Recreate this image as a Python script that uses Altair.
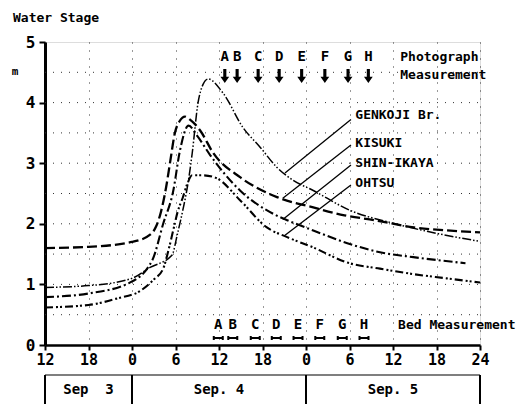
import altair as alt
import pandas as pd

# ---------------- data (hours counted from Sep 3, 00:00) ----------------
GENKOJI_H = [12, 18, 24, 26.5, 29.5, 30.3, 31.0, 31.7, 32.3, 33.1, 33.8, 34.5, 36.6, 39.3, 41.7, 44.0, 46.2, 49.0, 54.1, 60.0, 66.1, 72]
GENKOJI_V = [0.95, 0.98, 1.10, 1.28, 1.48, 1.85, 2.22, 2.65, 3.16, 3.99, 4.30, 4.39, 4.15, 3.59, 3.26, 2.93, 2.72, 2.55, 2.22, 2.01, 1.84, 1.71]

KISUKI_H = [12, 18, 24, 26.5, 27.3, 28.0, 28.7, 29.3, 29.9, 30.6, 31.3, 32.0, 33.4, 35.2, 38.9, 44.0, 49.0, 53.3, 57.4, 62.9, 67.5, 72]
KISUKI_V = [1.60, 1.62, 1.70, 1.82, 1.95, 2.20, 2.60, 3.05, 3.49, 3.70, 3.77, 3.72, 3.54, 3.17, 2.77, 2.44, 2.27, 2.14, 2.06, 1.94, 1.89, 1.86]

SHIN_H = [12, 18, 23.7, 26.8, 28.3, 29.7, 30.6, 31.8, 33.0, 34.8, 38.9, 43.4, 45.4, 49.0, 53.7, 58.2, 62.8, 70.0]
SHIN_V = [0.79, 0.85, 1.03, 1.40, 2.00, 2.55, 3.20, 3.62, 3.45, 3.13, 2.55, 2.17, 2.06, 1.89, 1.68, 1.53, 1.45, 1.35]

OHTSU_H = [12, 18, 22, 25.1, 27.0, 28.3, 29.0, 29.7, 30.3, 31.0, 31.6, 32.3, 33.8, 35.7, 38.9, 42.6, 45.4, 49.0, 53.7, 58.2, 62.8, 67.4, 72]
OHTSU_V = [0.62, 0.66, 0.77, 0.89, 1.08, 1.26, 1.55, 1.90, 2.20, 2.43, 2.65, 2.80, 2.80, 2.75, 2.39, 1.94, 1.78, 1.61, 1.36, 1.26, 1.17, 1.10, 1.03]

STATIONS = ["GENKOJI Br.", "KISUKI", "SHIN-IKAYA", "OHTSU"]
# leader lines: curve end (hour, stage) -> label end (hour, stage)
LEADER_H1 = [45.1, 44.8, 44.8, 45.1]
LEADER_V1 = [2.84, 2.42, 2.07, 1.81]
LEADER_H2 = [54.2, 54.2, 54.2, 54.2]
LEADER_V2 = [3.72, 3.30, 2.97, 2.64]
LABEL_H = [54.8, 54.8, 54.8, 54.8]
LABEL_V = [3.79, 3.34, 3.01, 2.68]

MEAS = ["A", "B", "C", "D", "E", "F", "G", "H"]
PHOTO_H = [36.8, 38.5, 41.4, 44.3, 47.4, 50.6, 53.8, 56.6]
BED_H = [35.9, 37.9, 41.0, 43.9, 46.9, 49.9, 53.0, 56.0]

X_TICKS = [12, 18, 24, 30, 36, 42, 48, 54, 60, 66, 72]
Y_TICKS = [0, 1, 2, 3, 4, 5]
GRID_Y = [0.5, 1, 1.5, 2, 2.5, 3, 3.5, 4, 4.5]

DAY_EDGES = [12, 24, 48, 72]
DAY_MID = [18, 36, 60]
DAY_NAMES = ["Sep\u00a0\u00a03", "Sep.\u00a04", "Sep.\u00a05"]

# ---------------- tables ----------------
def series(name, hs, vs):
    return pd.DataFrame({"station": name, "hour": hs, "stage": vs})

lines = {
    "GENKOJI Br.": series("GENKOJI Br.", GENKOJI_H, GENKOJI_V),
    "KISUKI": series("KISUKI", KISUKI_H, KISUKI_V),
    "SHIN-IKAYA": series("SHIN-IKAYA", SHIN_H, SHIN_V),
    "OHTSU": series("OHTSU", OHTSU_H, OHTSU_V),
}
styles = {
    "GENKOJI Br.": dict(strokeDash=[9, 2, 1.5, 2, 1.5, 2], strokeWidth=1.5),
    "KISUKI": dict(strokeDash=[10, 4], strokeWidth=2.3),
    "SHIN-IKAYA": dict(strokeDash=[9, 3, 2, 3], strokeWidth=2.1),
    "OHTSU": dict(strokeDash=[8, 3, 2, 2, 2, 3], strokeWidth=2.1),
}

leaders = pd.DataFrame({"h1": LEADER_H1, "v1": LEADER_V1, "h2": LEADER_H2, "v2": LEADER_V2})
labels = pd.DataFrame({"station": STATIONS, "hour": LABEL_H, "stage": LABEL_V})
photo = pd.DataFrame({"m": MEAS, "hour": PHOTO_H})
bed = pd.DataFrame({"m": MEAS, "hour": BED_H})
grid_y = pd.DataFrame({"stage": GRID_Y, "hour": [12] * len(GRID_Y)})
days_e = pd.DataFrame({"hour": DAY_EDGES})
days_m = pd.DataFrame({"hour": DAY_MID, "name": DAY_NAMES})
span = pd.DataFrame({"h1": [DAY_EDGES[0]], "h2": [DAY_EDGES[-1]]})

FONT = "DejaVu Sans Mono"
xs = alt.Scale(domain=[12, 72], nice=False, zero=False)
ys = alt.Scale(domain=[0, 5], nice=False, zero=False)

x_axis = alt.Axis(values=X_TICKS, labelExpr="datum.value == 72 ? '24' : '' + (datum.value % 24)",
                  title=None, grid=True, gridDash=[1, 7], gridColor="#333", gridWidth=1,
                  domain=True, domainWidth=2.5, domainColor="black", tickColor="black", tickWidth=2,
                  tickSize=5, labelFont=FONT, labelFontSize=15, labelFontWeight="bold",
                  labelColor="black", labelPadding=2, labelFlush=False, labelOverlap=False)
y_axis = alt.Axis(values=Y_TICKS, format="d", title=None, grid=False,
                  domain=True, domainWidth=3, domainColor="black", tickColor="black", tickWidth=2,
                  tickSize=6, labelFont=FONT, labelFontSize=16, labelFontWeight="bold",
                  labelColor="black", labelPadding=4, labelFlush=False, labelOverlap=False)


def X(field):
    return alt.X(field, type="quantitative", scale=xs, axis=x_axis)


def Y(field):
    return alt.Y(field, type="quantitative", scale=ys, axis=y_axis)


TXT = dict(font=FONT, fontSize=13, fontWeight="bold", color="black")
BIG = dict(font=FONT, fontSize=14, fontWeight="bold", color="black")

layers = []
# horizontal dotted grid
layers.append(alt.Chart(grid_y).mark_rule(strokeDash=[1, 7], color="#333", strokeWidth=1).encode(
    y=Y("stage"), x=X("hour"), x2=alt.value(435)))

for name in STATIONS:
    st = styles[name]
    layers.append(alt.Chart(lines[name]).mark_line(color="black", interpolate="monotone", **st).encode(
        x=X("hour"), y=Y("stage")))

layers.append(alt.Chart(leaders).mark_rule(color="black", strokeWidth=1.3).encode(
    x=X("h1"), x2="h2", y=Y("v1"), y2="v2"))
layers.append(alt.Chart(labels).mark_text(align="left", baseline="middle", **TXT).encode(
    x=X("hour"), y=Y("stage"), text="station:N"))

# photograph measurement letters and arrows
layers.append(alt.Chart(photo).mark_text(baseline="middle", **BIG).encode(
    x=X("hour"), y=alt.value(15), text="m:N"))
ARROW = "M-0.22,-1L0.22,-1L0.22,0.1L0.62,0.1L0,1L-0.62,0.1L-0.22,0.1Z"
layers.append(alt.Chart(photo).mark_point(shape=ARROW, size=200, filled=True, color="black",
                                          opacity=1).encode(
    x=X("hour"), y=alt.value(34)))
PHOTO_TXT = pd.DataFrame({"t": ["Photograph", "Measurement"], "hour": [61.0, 61.0]})
layers.append(alt.Chart(PHOTO_TXT.iloc[[0]]).mark_text(align="left", baseline="middle", **TXT).encode(
    x=X("hour"), y=alt.value(15), text="t:N"))
layers.append(alt.Chart(PHOTO_TXT.iloc[[1]]).mark_text(align="left", baseline="middle", **TXT).encode(
    x=X("hour"), y=alt.value(33), text="t:N"))

# bed measurement letters and interval symbols
layers.append(alt.Chart(bed).mark_text(baseline="middle", **BIG).encode(
    x=X("hour"), y=alt.value(283), text="m:N"))
BRACKET = "M-1,-0.45L-1,0.45M-1,0L1,0M1,-0.45L1,0.45"
layers.append(alt.Chart(bed).mark_point(shape=BRACKET, size=81, filled=False, color="black",
                                        strokeWidth=2, opacity=1).encode(
    x=X("hour"), y=alt.value(296)))
layers.append(alt.Chart(pd.DataFrame({"t": ["Bed Measurement"], "hour": [60.7]}))
              .mark_text(align="left", baseline="middle", **TXT).encode(
    x=X("hour"), y=alt.value(283), text="t:N"))

# date box below the axis
layers.append(alt.Chart(span).mark_rule(color="black", strokeWidth=1.2).encode(
    x=X("h1"), x2="h2", y=alt.value(333)))
layers.append(alt.Chart(days_e).mark_rule(color="black", strokeWidth=2).encode(
    x=X("hour"), y=alt.value(333), y2=alt.value(380)))
layers.append(alt.Chart(days_m).mark_text(baseline="middle", **BIG).encode(
    x=X("hour"), y=alt.value(348), text="name:N"))

# titles
layers.append(alt.Chart(pd.DataFrame({"t": ["Water Stage"]})).mark_text(
    align="left", baseline="middle", **TXT).encode(
    x=alt.value(-32), y=alt.value(-24), text="t:N"))
layers.append(alt.Chart(pd.DataFrame({"t": ["m"]})).mark_text(
    align="center", baseline="middle", font=FONT, fontSize=11, fontWeight="bold", color="black").encode(
    x=alt.value(-30), y=alt.value(30), text="t:N"))

chart = alt.layer(*layers).properties(
    width=435, height=303,
    autosize=alt.AutoSizeParams(type="none"),
    padding={"left": 37, "top": 34, "right": 37, "bottom": 62},
).configure_view(stroke=None).configure(background="white")

chart.save("out.html", embed_options={"renderer": "svg", "actions": False})
